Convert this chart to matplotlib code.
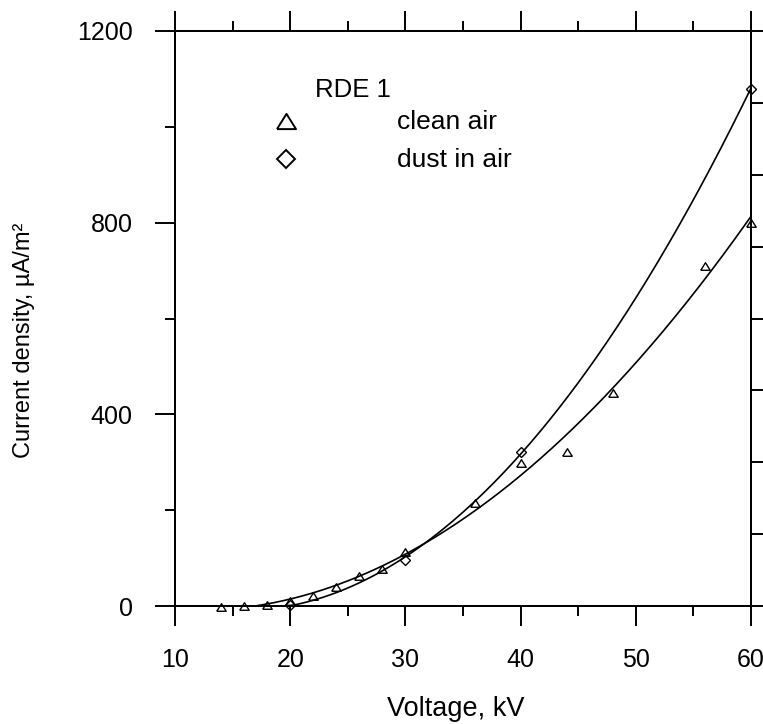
import numpy as np
import matplotlib
matplotlib.use('Agg')
import matplotlib.pyplot as plt
from matplotlib.ticker import MultipleLocator

plt.rcParams['font.family'] = ['Liberation Sans', 'DejaVu Sans']

# RDE 1, current density vs voltage
CLEAN_KV = [14, 16, 18, 20, 22, 24, 26, 28, 30, 36, 40, 44, 48, 56, 60]
CLEAN_J = [-2, 0, 2, 10, 21, 40, 62, 77, 113, 215, 299, 321, 444, 710, 800]
DUST_KV = [20, 30, 40, 60]
DUST_J = [3, 96, 322, 1080]

INK = 'black'
TRI = [(-1, -0.8), (1, -0.8), (0, 0.8), (-1, -0.8)]


def fit_curve(xs, ys):
    """Quadratic trend line, drawn only on its rising branch above zero."""
    coef = np.polyfit(xs, ys, 2)
    grid = np.linspace(min(xs), max(xs), 400)
    vals = np.polyval(coef, grid)
    vertex = -coef[1] / (2 * coef[0])
    keep = (grid >= vertex) & (vals >= 0)
    return grid[keep], vals[keep]


fig = plt.figure(figsize=(7.63, 7.24), dpi=100)
ax = fig.add_axes([175 / 763, 118 / 724, 576 / 763, 575 / 724])

for xs, ys in [(CLEAN_KV, CLEAN_J), (DUST_KV, DUST_J)]:
    gx, gy = fit_curve(xs, ys)
    ax.plot(gx, gy, color=INK, lw=1.2)

ax.plot(CLEAN_KV, CLEAN_J, ls='none', marker=TRI, ms=6.8, mfc='none',
        mec=INK, mew=1.0, clip_on=False)
ax.plot(DUST_KV, DUST_J, ls='none', marker='D', ms=4.7, mfc='none',
        mec=INK, mew=1.0, clip_on=False)

ax.set_xlim(10, 60)
ax.set_ylim(0, 1200)
ax.xaxis.set_major_locator(MultipleLocator(10))
ax.xaxis.set_minor_locator(MultipleLocator(5))
ax.yaxis.set_major_locator(MultipleLocator(400))
ax.yaxis.set_minor_locator(MultipleLocator(200))

for s in ax.spines.values():
    s.set_linewidth(1.4)
ax.tick_params(which='both', direction='out', width=1.4, colors=INK,
               top=True, right=False, labelsize=18)
ax.tick_params(which='major', length=14.4, pad=16)
ax.tick_params(which='minor', length=7.5)

# right side scale, ticks only (labels fall outside the picture)
ax2 = ax.twinx()
ax2.set_ylim(0, 1200)
ax2.yaxis.set_major_locator(MultipleLocator(150))
ax2.tick_params(direction='out', length=14.4, width=1.4, labelright=False)
for s in ax2.spines.values():
    s.set_linewidth(1.4)

ax.set_xlabel('Voltage, kV', fontsize=19.5)
ax.xaxis.set_label_coords((456 - 175) / 576, (606 - 709) / 575)
ax.xaxis.label.set_va('center')
ax.set_ylabel('Current density, µA/m²', fontsize=17)
ax.yaxis.set_label_coords((24 - 175) / 576, (606 - 340) / 575)
ax.yaxis.label.set_va('center')

# legend block
ax.text(0.243, 0.885, 'RDE 1', transform=ax.transAxes, fontsize=18.5,
        va='baseline', ha='left')
ax.plot([0.1927], [0.8435], transform=ax.transAxes, ls='none', marker=TRI,
        ms=13.7, mfc='none', mec=INK, mew=1.4, clip_on=False)
ax.plot([0.1927], [0.7774], transform=ax.transAxes, ls='none', marker='D',
        ms=9.5, mfc='none', mec=INK, mew=1.4, clip_on=False)
ax.text(0.385, 0.8296, 'clean air', transform=ax.transAxes, fontsize=19,
        va='baseline', ha='left')
ax.text(0.385, 0.7635, 'dust in air', transform=ax.transAxes, fontsize=19,
        va='baseline', ha='left')

fig.savefig('out.png', dpi=100, facecolor='white')
